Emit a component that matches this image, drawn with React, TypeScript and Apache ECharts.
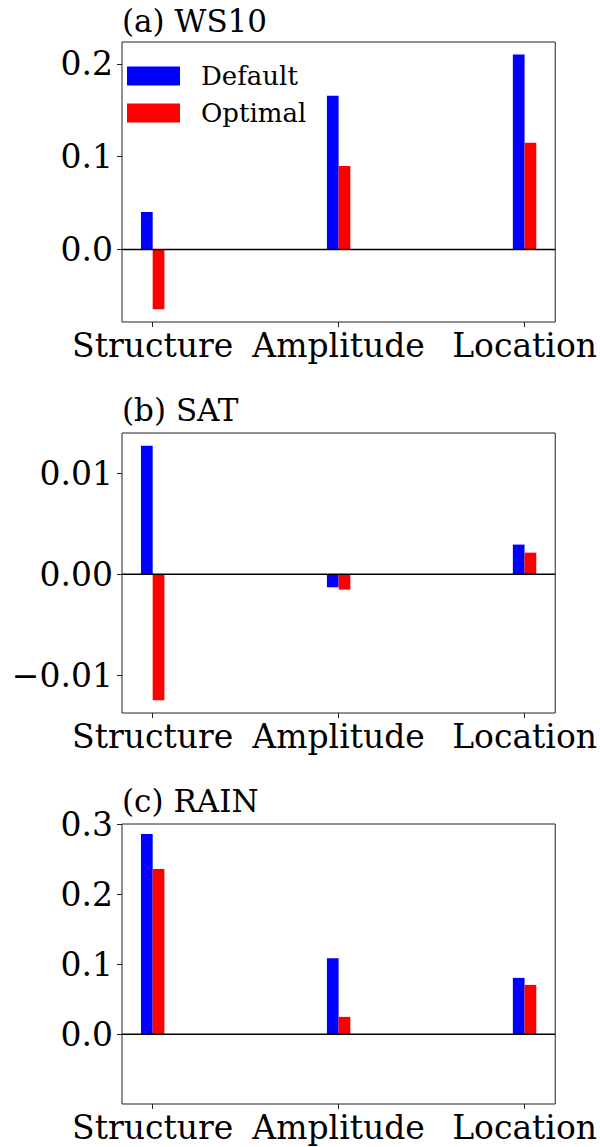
import React, { useEffect, useRef } from "react";
import * as echarts from "echarts";

const categories = ["Structure", "Amplitude", "Location"];
const seriesNames = ["Default", "Optimal"];
const seriesColors = ["#0000ff", "#ff0000"];
const panelTitles = ["(a) WS10", "(b) SAT", "(c) RAIN"];

const ws10Default = [0.0404, 0.1658, 0.2101];
const ws10Optimal = [-0.0645, 0.0901, 0.115];
const satDefault = [0.01277, -0.00129, 0.00295];
const satOptimal = [-0.0125, -0.00152, 0.00215];
const rainDefault = [0.2866, 0.1087, 0.0806];
const rainOptimal = [0.2365, 0.0248, 0.0706];

const ws10Ticks = [0, 0.1, 0.2];
const satTicks = [-0.01, 0, 0.01];
const rainTicks = [0, 0.1, 0.2, 0.3];
const categoryTicks = [0, 1, 2];

const FONT = "'DejaVu Serif', 'Liberation Serif', serif";

export default function App() {
  const ref = useRef<HTMLDivElement>(null);

  useEffect(() => {
    if (!ref.current) return;
    const chart = echarts.init(ref.current, undefined, { renderer: "svg" });

    const panels = [
      { title: panelTitles[0], def: ws10Default, opt: ws10Optimal, ticks: ws10Ticks, dec: 1, ylim: [-0.0782, 0.2237] },
      { title: panelTitles[1], def: satDefault, opt: satOptimal, ticks: satTicks, dec: 2, ylim: [-0.01377, 0.01403] },
      { title: panelTitles[2], def: rainDefault, opt: rainOptimal, ticks: rainTicks, dec: 1, ylim: [-0.1, 0.301] },
    ];
    const xlim = [-0.165, 2.165];
    const barW = 0.063;
    const tops = [42, 433, 824];
    const gridH = 280;

    const grid: any[] = [];
    const xAxis: any[] = [];
    const yAxis: any[] = [];
    const series: any[] = [];
    const title: any[] = [];
    const titleTops = [5, 394, 785];

    panels.forEach((p, i) => {
      grid.push({
        left: 122,
        width: 435,
        top: tops[i],
        height: gridH,
        show: true,
        borderColor: "#222",
        borderWidth: 1,
        backgroundColor: "transparent",
        containLabel: false,
      });
      title.push({
        text: p.title,
        left: 122,
        top: titleTops[i],
        padding: 0,
        textStyle: { fontFamily: FONT, fontSize: 31, fontWeight: "normal", color: "#000" },
      });
      xAxis.push({
        type: "value",
        gridIndex: i,
        position: "bottom",
        min: xlim[0],
        max: xlim[1],
        axisLine: { show: false, onZero: false },
        splitLine: { show: false },
        axisTick: {
          show: true,
          inside: false,
          length: 5,
          customValues: categoryTicks,
          lineStyle: { color: "#222", width: 1 },
        },
        axisLabel: {
          show: true,
          customValues: categoryTicks,
          margin: 7,
          fontFamily: FONT,
          fontSize: 33,
          color: "#000",
          formatter: (v: number) => categories[Math.round(v)] ?? "",
        },
      });
      yAxis.push({
        type: "value",
        gridIndex: i,
        position: "left",
        min: p.ylim[0],
        max: p.ylim[1],
        axisLine: { show: false, onZero: false },
        splitLine: { show: false },
        axisTick: {
          show: true,
          inside: false,
          length: 5,
          customValues: p.ticks,
          lineStyle: { color: "#222", width: 1 },
        },
        axisLabel: {
          show: true,
          customValues: p.ticks,
          margin: 9,
          fontFamily: FONT,
          fontSize: 33,
          color: "#000",
          formatter: (v: number) => {
            const s = Math.abs(v) < 1e-12 ? (0).toFixed(p.dec) : v.toFixed(p.dec);
            return s.replace("-", "\u2212");
          },
        },
      });

      const vals = [p.def, p.opt];
      vals.forEach((arr, k) => {
        const offL = k === 0 ? -barW : 0;
        const offR = k === 0 ? 0 : barW;
        series.push({
          type: "custom",
          name: seriesNames[k],
          xAxisIndex: i,
          yAxisIndex: i,
          itemStyle: { color: seriesColors[k] },
          encode: { x: 0, y: 1 },
          data: arr.map((v, j) => [j, v]),
          renderItem: (params: any, api: any) => {
            const x = api.value(0);
            const y = api.value(1);
            const p0 = api.coord([x + offL, 0]);
            const p1 = api.coord([x + offR, y]);
            return {
              type: "rect",
              shape: {
                x: p0[0],
                y: Math.min(p0[1], p1[1]),
                width: p1[0] - p0[0],
                height: Math.abs(p1[1] - p0[1]),
              },
              style: { fill: seriesColors[k] },
            };
          },
        });
      });
      series.push({
        type: "line",
        name: "zero" + i,
        xAxisIndex: i,
        yAxisIndex: i,
        data: [
          [xlim[0], 0],
          [xlim[1], 0],
        ],
        symbol: "none",
        silent: true,
        lineStyle: { color: "#000", width: 1.5 },
        z: 5,
      });
    });

    chart.setOption({
      animation: false,
      backgroundColor: "#fff",
      title,
      grid,
      xAxis,
      yAxis,
      legend: {
        data: seriesNames.map((n, k) => ({ name: n, itemStyle: { color: seriesColors[k] } })),
        orient: "vertical",
        left: 127,
        top: 63,
        padding: 0,
        icon: "rect",
        itemWidth: 53,
        itemHeight: 19,
        itemGap: 11,
        selectedMode: false,
        textStyle: { fontFamily: FONT, fontSize: 26, color: "#000", padding: [0, 0, 0, 16] },
      },
      series,
    });

    return () => chart.dispose();
  }, []);

  return (
    <div
      ref={ref}
      style={{ position: "fixed", left: 0, top: 0, width: 600, height: 1147, background: "#fff" }}
    />
  );
}
